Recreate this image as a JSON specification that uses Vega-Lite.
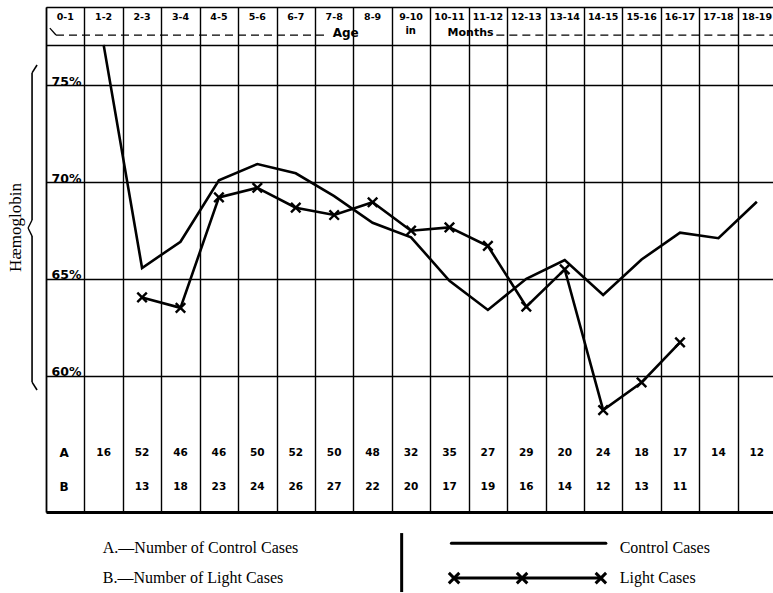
{
  "$schema": "https://vega.github.io/schema/vega-lite/v6.json",
  "width": 727,
  "height": 505,
  "autosize": {"type": "none"},
  "padding": {"left": 46, "top": 7, "right": 0, "bottom": 81},
  "background": "white",
  "config": {"view": {"stroke": null}},
  "data": {
    "values": [
      {"age": 0.5, "label": "0-1", "control": null, "light": null, "nA": null, "nB": null},
      {"age": 1.5, "label": "1-2", "control": 77.1, "light": null, "nA": "16", "nB": null},
      {"age": 2.5, "label": "2-3", "control": 65.56, "light": 64.04, "nA": "52", "nB": "13"},
      {"age": 3.5, "label": "3-4", "control": 66.92, "light": 63.5, "nA": "46", "nB": "18"},
      {"age": 4.5, "label": "4-5", "control": 70.1, "light": 69.21, "nA": "46", "nB": "23"},
      {"age": 5.5, "label": "5-6", "control": 70.94, "light": 69.71, "nA": "50", "nB": "24"},
      {"age": 6.5, "label": "6-7", "control": 70.46, "light": 68.68, "nA": "52", "nB": "26"},
      {"age": 7.5, "label": "7-8", "control": 69.28, "light": 68.3, "nA": "50", "nB": "27"},
      {"age": 8.5, "label": "8-9", "control": 67.9, "light": 68.96, "nA": "48", "nB": "22"},
      {"age": 9.5, "label": "9-10", "control": 67.15, "light": 67.49, "nA": "32", "nB": "20"},
      {"age": 10.5, "label": "10-11", "control": 64.9, "light": 67.66, "nA": "35", "nB": "17"},
      {"age": 11.5, "label": "11-12", "control": 63.39, "light": 66.7, "nA": "27", "nB": "19"},
      {"age": 12.5, "label": "12-13", "control": 65.0, "light": 63.56, "nA": "29", "nB": "16"},
      {"age": 13.5, "label": "13-14", "control": 65.97, "light": 65.49, "nA": "20", "nB": "14"},
      {"age": 14.5, "label": "14-15", "control": 64.16, "light": 58.21, "nA": "24", "nB": "12"},
      {"age": 15.5, "label": "15-16", "control": 66.0, "light": 59.64, "nA": "18", "nB": "13"},
      {"age": 16.5, "label": "16-17", "control": 67.39, "light": 61.71, "nA": "17", "nB": "11"},
      {"age": 17.5, "label": "17-18", "control": 67.1, "light": null, "nA": "14", "nB": null},
      {"age": 18.5, "label": "18-19", "control": 68.99, "light": null, "nA": "12", "nB": null}
    ]
  },
  "layer": [
    {
      "mark": {"type": "line", "color": "#000", "strokeWidth": 2.6},
      "transform": [{"filter": "datum.control != null"}],
      "encoding": {
        "x": {
          "field": "age", "type": "quantitative",
          "scale": {"domain": [0, 18.92], "nice": false, "zero": false},
          "axis": {
            "orient": "bottom", "values": [0,1,2,3,4,5,6,7,8,9,10,11,12,13,14,15,16,17,18],
            "grid": true, "gridColor": "#000", "gridWidth": 1.4, "gridOpacity": 1,
            "domain": true, "domainColor": "#000", "domainWidth": 3,
            "ticks": false, "labels": false, "title": null
          }
        },
        "y": {
          "field": "control", "type": "quantitative",
          "scale": {"domain": [52.94, 79.06], "nice": false, "zero": false},
          "axis": {
            "orient": "left", "values": [60, 65, 70, 75, 77.1, 79.06],
            "grid": true, "gridColor": "#000", "gridWidth": 1.4, "gridOpacity": 1,
            "domain": true, "domainColor": "#000", "domainWidth": 1.5,
            "ticks": false, "tickSize": 0,
            "labelExpr": "datum.value <= 75 ? datum.value + '%' : ''",
            "labelAlign": "left", "labelBaseline": "alphabetic", "labelPadding": -5,
            "labelFont": "DejaVu Sans", "labelFontWeight": "bold", "labelFontSize": 12.5,
            "labelColor": "#000", "labelOverlap": false, "labelBound": false,
            "title": "Hæmoglobin", "titleFont": "Liberation Serif", "titleFontSize": 17,
            "titleFontWeight": "normal", "titleColor": "#000",
            "titleX": -31, "titleY": 220, "titleAngle": -90,
            "titleBaseline": "middle", "titleAlign": "center"
          }
        }
      }
    },
    {
      "mark": {"type": "line", "color": "#000", "strokeWidth": 2.6},
      "transform": [{"filter": "datum.light != null"}],
      "encoding": {
        "x": {"field": "age", "type": "quantitative"},
        "y": {"field": "light", "type": "quantitative"}
      }
    },
    {
      "mark": {"type": "point", "shape": "M-1,-1L1,1M-1,1L1,-1", "filled": false, "stroke": "#000", "strokeWidth": 2.4, "size": 90, "opacity": 1},
      "transform": [{"filter": "datum.light != null"}],
      "encoding": {
        "x": {"field": "age", "type": "quantitative"},
        "y": {"field": "light", "type": "quantitative"}
      }
    },
    {
      "mark": {"type": "text", "font": "DejaVu Sans", "fontWeight": "bold", "fontSize": 9.5, "baseline": "middle", "align": "center", "color": "#000"},
      "encoding": {
        "x": {"field": "age", "type": "quantitative"},
        "y": {"datum": 78.52},
        "text": {"field": "label", "type": "nominal"}
      }
    },
    {
      "mark": {"type": "text", "font": "DejaVu Sans", "fontWeight": "bold", "fontSize": 10.5, "baseline": "middle", "align": "center", "color": "#000"},
      "transform": [{"filter": "datum.nA != null"}],
      "encoding": {
        "x": {"field": "age", "type": "quantitative"},
        "y": {"datum": 55.99},
        "text": {"field": "nA", "type": "nominal"}
      }
    },
    {
      "mark": {"type": "text", "font": "DejaVu Sans", "fontWeight": "bold", "fontSize": 10.5, "baseline": "middle", "align": "center", "color": "#000"},
      "transform": [{"filter": "datum.nB != null"}],
      "encoding": {
        "x": {"field": "age", "type": "quantitative"},
        "y": {"datum": 54.23},
        "text": {"field": "nB", "type": "nominal"}
      }
    },
    {
      "data": {"values": [{}]},
      "mark": {"type": "text", "font": "DejaVu Sans", "fontWeight": "bold", "fontSize": 12, "baseline": "middle", "align": "center", "color": "#000", "text": "A"},
      "encoding": {"x": {"datum": 0.47}, "y": {"datum": 55.99}}
    },
    {
      "data": {"values": [{}]},
      "mark": {"type": "text", "font": "DejaVu Sans", "fontWeight": "bold", "fontSize": 12, "baseline": "middle", "align": "center", "color": "#000", "text": "B"},
      "encoding": {"x": {"datum": 0.47}, "y": {"datum": 54.23}}
    },
    {
      "data": {"values": [{}]},
      "mark": {"type": "text", "font": "DejaVu Sans", "fontWeight": "bold", "fontSize": 12, "baseline": "middle", "align": "center", "color": "#000", "text": "Age"},
      "encoding": {"x": {"datum": 7.8}, "y": {"datum": 77.7}}
    },
    {
      "data": {"values": [{}]},
      "mark": {"type": "text", "font": "DejaVu Sans", "fontWeight": "bold", "fontSize": 10, "baseline": "middle", "align": "center", "color": "#000", "text": "in"},
      "encoding": {"x": {"datum": 9.49}, "y": {"datum": 77.84}}
    },
    {
      "data": {"values": [{}]},
      "mark": {"type": "text", "font": "DejaVu Sans", "fontWeight": "bold", "fontSize": 11, "baseline": "middle", "align": "center", "color": "#000", "text": "Months"},
      "encoding": {"x": {"datum": 11.05}, "y": {"datum": 77.74}}
    },
    {
      "data": {"values": [{}]},
      "mark": {"type": "rule", "color": "#000", "strokeWidth": 1.3, "strokeDash": [8, 5]},
      "encoding": {"x": {"datum": 0.26}, "x2": {"datum": 7.36}, "y": {"datum": 77.61}}
    },
    {
      "data": {"values": [{}]},
      "mark": {"type": "rule", "color": "#000", "strokeWidth": 1.3, "strokeDash": [8, 5]},
      "encoding": {"x": {"datum": 11.72}, "x2": {"datum": 18.92}, "y": {"datum": 77.61}}
    },
    {
      "data": {"values": [{}]},
      "mark": {"type": "rule", "color": "#000", "strokeWidth": 1.3},
      "encoding": {"x": {"datum": 0.1}, "x2": {"datum": 0.26}, "y": {"datum": 77.97}, "y2": {"datum": 77.61}}
    },
    {
      "data": {"values": [{}]},
      "mark": {"type": "rule", "color": "#000", "strokeWidth": 1.6},
      "encoding": {"x": {"datum": -0.233}, "x2": {"datum": -0.363}, "y": {"datum": 76.06}, "y2": {"datum": 75.65}}
    },
    {
      "data": {"values": [{}]},
      "mark": {"type": "rule", "color": "#000", "strokeWidth": 1.6},
      "encoding": {"x": {"datum": -0.363}, "y": {"datum": 75.65}, "y2": {"datum": 68.04}}
    },
    {
      "data": {"values": [{}]},
      "mark": {"type": "rule", "color": "#000", "strokeWidth": 1.4},
      "encoding": {"x": {"datum": -0.363}, "x2": {"datum": -0.467}, "y": {"datum": 68.04}, "y2": {"datum": 67.63}}
    },
    {
      "data": {"values": [{}]},
      "mark": {"type": "rule", "color": "#000", "strokeWidth": 1.4},
      "encoding": {"x": {"datum": -0.467}, "x2": {"datum": -0.363}, "y": {"datum": 67.63}, "y2": {"datum": 67.21}}
    },
    {
      "data": {"values": [{}]},
      "mark": {"type": "rule", "color": "#000", "strokeWidth": 1.6},
      "encoding": {"x": {"datum": -0.363}, "y": {"datum": 67.21}, "y2": {"datum": 59.66}}
    },
    {
      "data": {"values": [{}]},
      "mark": {"type": "rule", "color": "#000", "strokeWidth": 1.6},
      "encoding": {"x": {"datum": -0.363}, "x2": {"datum": -0.233}, "y": {"datum": 59.66}, "y2": {"datum": 59.25}}
    },
    {
      "data": {"values": [{}]},
      "mark": {"type": "text", "font": "Liberation Serif", "fontSize": 16, "baseline": "middle", "align": "left", "color": "#000", "text": "A.—Number of Control Cases"},
      "encoding": {"x": {"datum": 1.478}, "y": {"datum": 51.07}}
    },
    {
      "data": {"values": [{}]},
      "mark": {"type": "text", "font": "Liberation Serif", "fontSize": 16, "baseline": "middle", "align": "left", "color": "#000", "text": "B.—Number of Light Cases"},
      "encoding": {"x": {"datum": 1.478}, "y": {"datum": 49.52}}
    },
    {
      "data": {"values": [{}]},
      "mark": {"type": "rule", "color": "#000", "strokeWidth": 3},
      "encoding": {"x": {"datum": 9.256}, "y": {"datum": 51.85}, "y2": {"datum": 48.8}}
    },
    {
      "data": {"values": [{}]},
      "mark": {"type": "rule", "color": "#000", "strokeWidth": 3, "strokeCap": "round"},
      "encoding": {"x": {"datum": 10.55}, "x2": {"datum": 14.57}, "y": {"datum": 51.33}}
    },
    {
      "data": {"values": [{}]},
      "mark": {"type": "rule", "color": "#000", "strokeWidth": 3},
      "encoding": {"x": {"datum": 10.62}, "x2": {"datum": 14.44}, "y": {"datum": 49.52}}
    },
    {
      "data": {"values": [{}]},
      "mark": {"type": "point", "shape": "M-1,-1L1,1M-1,1L1,-1", "filled": false, "stroke": "#000", "strokeWidth": 3, "size": 110, "opacity": 1},
      "encoding": {"x": {"datum": 10.62}, "y": {"datum": 49.52}}
    },
    {
      "data": {"values": [{}]},
      "mark": {"type": "point", "shape": "M-1,-1L1,1M-1,1L1,-1", "filled": false, "stroke": "#000", "strokeWidth": 3, "size": 110, "opacity": 1},
      "encoding": {"x": {"datum": 12.39}, "y": {"datum": 49.52}}
    },
    {
      "data": {"values": [{}]},
      "mark": {"type": "point", "shape": "M-1,-1L1,1M-1,1L1,-1", "filled": false, "stroke": "#000", "strokeWidth": 3, "size": 110, "opacity": 1},
      "encoding": {"x": {"datum": 14.44}, "y": {"datum": 49.52}}
    },
    {
      "data": {"values": [{}]},
      "mark": {"type": "text", "font": "Liberation Serif", "fontSize": 16, "baseline": "middle", "align": "left", "color": "#000", "text": "Control Cases"},
      "encoding": {"x": {"datum": 14.93}, "y": {"datum": 51.07}}
    },
    {
      "data": {"values": [{}]},
      "mark": {"type": "text", "font": "Liberation Serif", "fontSize": 16, "baseline": "middle", "align": "left", "color": "#000", "text": "Light Cases"},
      "encoding": {"x": {"datum": 14.93}, "y": {"datum": 49.52}}
    }
  ]
}
